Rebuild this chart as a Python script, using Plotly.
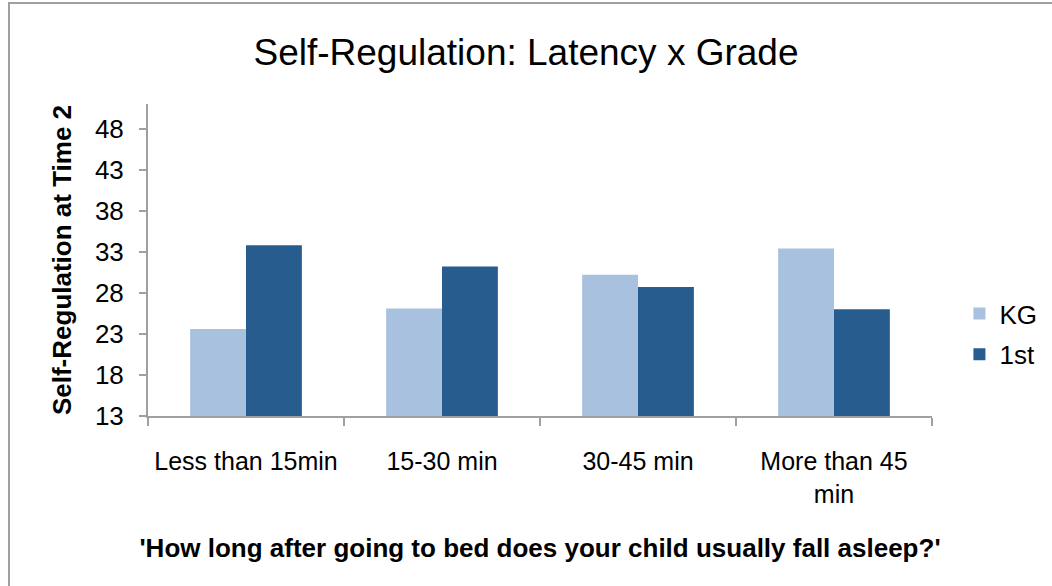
import plotly.graph_objects as go

categories = ["Less than 15min", "15-30 min", "30-45 min", "More than 45<br>min"]
kg_values = [23.6, 26.1, 30.2, 33.4]
first_values = [33.8, 31.2, 28.7, 26.0]
series_names = ["KG", "1st"]
y_ticks = [13, 18, 23, 28, 33, 38, 43, 48]
y_base = 13

FONT = "Liberation Sans, Arial, sans-serif"

fig = go.Figure()
fig.add_trace(go.Bar(x=categories, y=[v - y_base for v in kg_values], base=y_base,
                     name=series_names[0],
                     marker=dict(color="#A7C1DF", line=dict(width=0)),
                     legendgroup="a"))
fig.add_trace(go.Bar(x=categories, y=[v - y_base for v in first_values], base=y_base,
                     name=series_names[1],
                     marker=dict(color="#275C8F", line=dict(width=0)),
                     legendgroup="b"))

fig.update_layout(
    width=1052, height=586,
    margin=dict(l=148, r=120, t=104, b=170, autoexpand=False),
    paper_bgcolor="white", plot_bgcolor="white",
    font=dict(family=FONT, color="black"),
    title=dict(text="Self-Regulation: Latency x Grade", x=0.5, xanchor="center",
               y=1 - 52 / 586, yanchor="middle", font=dict(size=37, family=FONT)),
    barmode="group", bargap=0.43, bargroupgap=0,
    showlegend=True,
    legend=dict(x=1.035, y=(416 - 334) / 312, xanchor="left", yanchor="middle",
                font=dict(size=26), tracegroupgap=4, itemwidth=30,
                bgcolor="rgba(0,0,0,0)"),
    xaxis=dict(showline=True, linecolor="#A0A0A0", linewidth=2, automargin=False,
               ticks="outside", tickson="boundaries", ticklen=8, tickcolor="#A0A0A0",
               tickwidth=2, tickfont=dict(size=25), ticklabelstandoff=22, tickangle=0,
               showgrid=False, fixedrange=True,
               title=dict(text="'How long after going to bed does your child usually fall asleep?'",
                          font=dict(size=26, family=FONT, weight="bold"), standoff=32)),
    yaxis=dict(range=[13, 51], tickmode="array", tickvals=y_ticks,
               ticktext=[str(t) for t in y_ticks], automargin=False,
               showline=True, linecolor="#A0A0A0", linewidth=2,
               ticks="outside", ticklen=7, tickcolor="#A0A0A0", tickwidth=2,
               tickfont=dict(size=26), ticklabelstandoff=10,
               showgrid=False, zeroline=False, fixedrange=True,
               title=dict(text="Self-Regulation at Time 2",
                          font=dict(size=26, family=FONT, weight="bold"), standoff=16)),
)

# outer chart frame (left and top edges visible)
fig.add_shape(type="line", xref="paper", yref="paper",
              x0=(9 - 148) / 784, x1=(9 - 148) / 784, y0=(416 - 2) / 312, y1=(416 - 600) / 312,
              line=dict(color="#A0A0A0", width=2))
fig.add_shape(type="line", xref="paper", yref="paper",
              x0=(9 - 148) / 784, x1=(1060 - 148) / 784, y0=(416 - 3) / 312, y1=(416 - 3) / 312,
              line=dict(color="#A0A0A0", width=2))

fig.write_html("out.html", config={"displayModeBar": False},
               post_script="document.body.style.margin='0';document.body.style.overflow='hidden';")
